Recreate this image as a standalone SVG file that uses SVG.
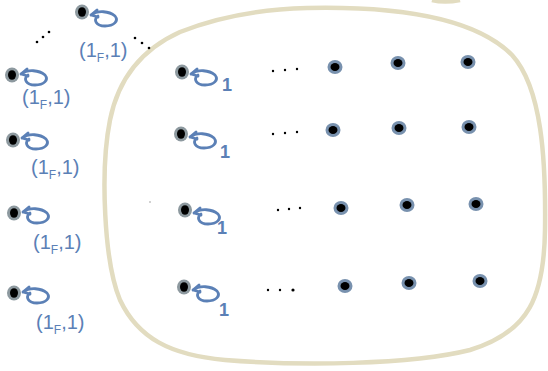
<svg xmlns="http://www.w3.org/2000/svg" xmlns:xlink="http://www.w3.org/1999/xlink" width="548" height="371" viewBox="0 0 548 371">
<style>
.blob{fill:none;stroke:#e2dcc0;stroke-width:4.5;stroke-linejoin:round}
.ringg{fill:#8d999f}
.ringb{fill:#7891ae}
.core{fill:#000}
.loop{fill:none;stroke:#5b80b6;stroke-width:2.8;stroke-linecap:round;stroke-linejoin:round}
.lbl{font-family:"Liberation Sans",sans-serif;fill:#5b80b6;font-size:20px}
.sub{font-size:12px}
.one{font-family:"Liberation Sans",sans-serif;fill:#5b80b6;font-size:18px;font-weight:bold}
.dot{fill:#000}
</style>
<defs>
<g id="ng"><ellipse rx="7" ry="7.5" class="ringg"/><ellipse rx="4" ry="4.8" class="core"/></g>
<g id="nb"><ellipse rx="7.5" ry="7" class="ringb"/><ellipse rx="4.5" ry="4" class="core"/></g>
<path id="lp" class="loop" d="M9,0 C16,-5 27,-4 33,1 C37,6 32,11 23,11 C14,11 11,5 16,1 M9,0 L15,-5 M9,0 L16,2"/>
</defs>

<g id="region">
<path class="blob" d="M307,8 C400,6 475,18 512,55 C542,88 546,160 545,230 C544,295 530,332 470,350 C410,365 300,366 225,360 C170,355 138,338 120,300 C104,262 100,170 110,120 C118,80 140,50 180,32 C225,14 270,9 307,8 Z"/>
<path class="blob" d="M432,0 C440,2 450,2 460,0"/>
</g>

<g id="outer-nodes">
<g id="o0"><use href="#ng" x="82" y="12"/><use href="#lp" x="82" y="15"/>
<text class="lbl" x="79" y="57">(1<tspan class="sub" dy="5">F</tspan><tspan dy="-5">,1)</tspan></text></g>
<g id="o1"><use href="#ng" x="12" y="75"/><use href="#lp" x="12" y="74"/>
<text class="lbl" x="22" y="104">(1<tspan class="sub" dy="5">F</tspan><tspan dy="-5">,1)</tspan></text></g>
<g id="o2"><use href="#ng" x="13" y="140"/><use href="#lp" x="13" y="138"/>
<text class="lbl" x="31" y="174">(1<tspan class="sub" dy="5">F</tspan><tspan dy="-5">,1)</tspan></text></g>
<g id="o3"><use href="#ng" x="14" y="213"/><use href="#lp" x="14" y="212"/>
<text class="lbl" x="33" y="249">(1<tspan class="sub" dy="5">F</tspan><tspan dy="-5">,1)</tspan></text></g>
<g id="o4"><use href="#ng" x="14" y="293"/><use href="#lp" x="14" y="292"/>
<text class="lbl" x="36" y="329">(1<tspan class="sub" dy="5">F</tspan><tspan dy="-5">,1)</tspan></text></g>
</g>

<g id="dots">
<circle class="dot" cx="37" cy="42" r="1.3"/><circle class="dot" cx="43" cy="37" r="1.3"/><circle class="dot" cx="49" cy="32" r="1.3"/>
<circle class="dot" cx="135" cy="38" r="1.3"/><circle class="dot" cx="142" cy="43" r="1.3"/><circle class="dot" cx="149" cy="48" r="1.3"/>
<circle class="dot" cx="273" cy="71" r="1.2"/><circle class="dot" cx="285" cy="70" r="1.2"/><circle class="dot" cx="297" cy="69" r="1.2"/>
<circle class="dot" cx="273" cy="134" r="1.2"/><circle class="dot" cx="285" cy="133" r="1.2"/><circle class="dot" cx="297" cy="132" r="1.2"/>
<circle class="dot" cx="278" cy="210" r="1.2"/><circle class="dot" cx="289" cy="209" r="1.2"/><circle class="dot" cx="300" cy="208" r="1.2"/>
<circle class="dot" cx="268" cy="290" r="1.2"/><circle class="dot" cx="280" cy="290" r="1.2"/><circle class="dot" cx="293" cy="290" r="1.6"/>
<circle cx="150" cy="202" r="0.8" fill="#999"/>
</g>

<g id="row1">
<use href="#ng" x="182" y="72"/><use href="#lp" x="182" y="74"/><text class="one" x="222" y="91">1</text>
<use href="#nb" x="335" y="67"/><use href="#nb" x="398" y="63"/><use href="#nb" x="468" y="62"/>
</g>
<g id="row2">
<use href="#ng" x="181" y="134"/><use href="#lp" x="181" y="137"/><text class="one" x="220" y="158">1</text>
<use href="#nb" x="333" y="130"/><use href="#nb" x="399" y="128"/><use href="#nb" x="469" y="127"/>
</g>
<g id="row3">
<use href="#ng" x="185" y="210"/><use href="#lp" x="185" y="213"/><text class="one" x="217" y="234">1</text>
<use href="#nb" x="341" y="208"/><use href="#nb" x="407" y="205"/><use href="#nb" x="476" y="204"/>
</g>
<g id="row4">
<use href="#ng" x="184" y="287"/><use href="#lp" x="184" y="290"/><text class="one" x="219" y="316">1</text>
<use href="#nb" x="345" y="286"/><use href="#nb" x="409" y="283"/><use href="#nb" x="480" y="281"/>
</g>
</svg>
